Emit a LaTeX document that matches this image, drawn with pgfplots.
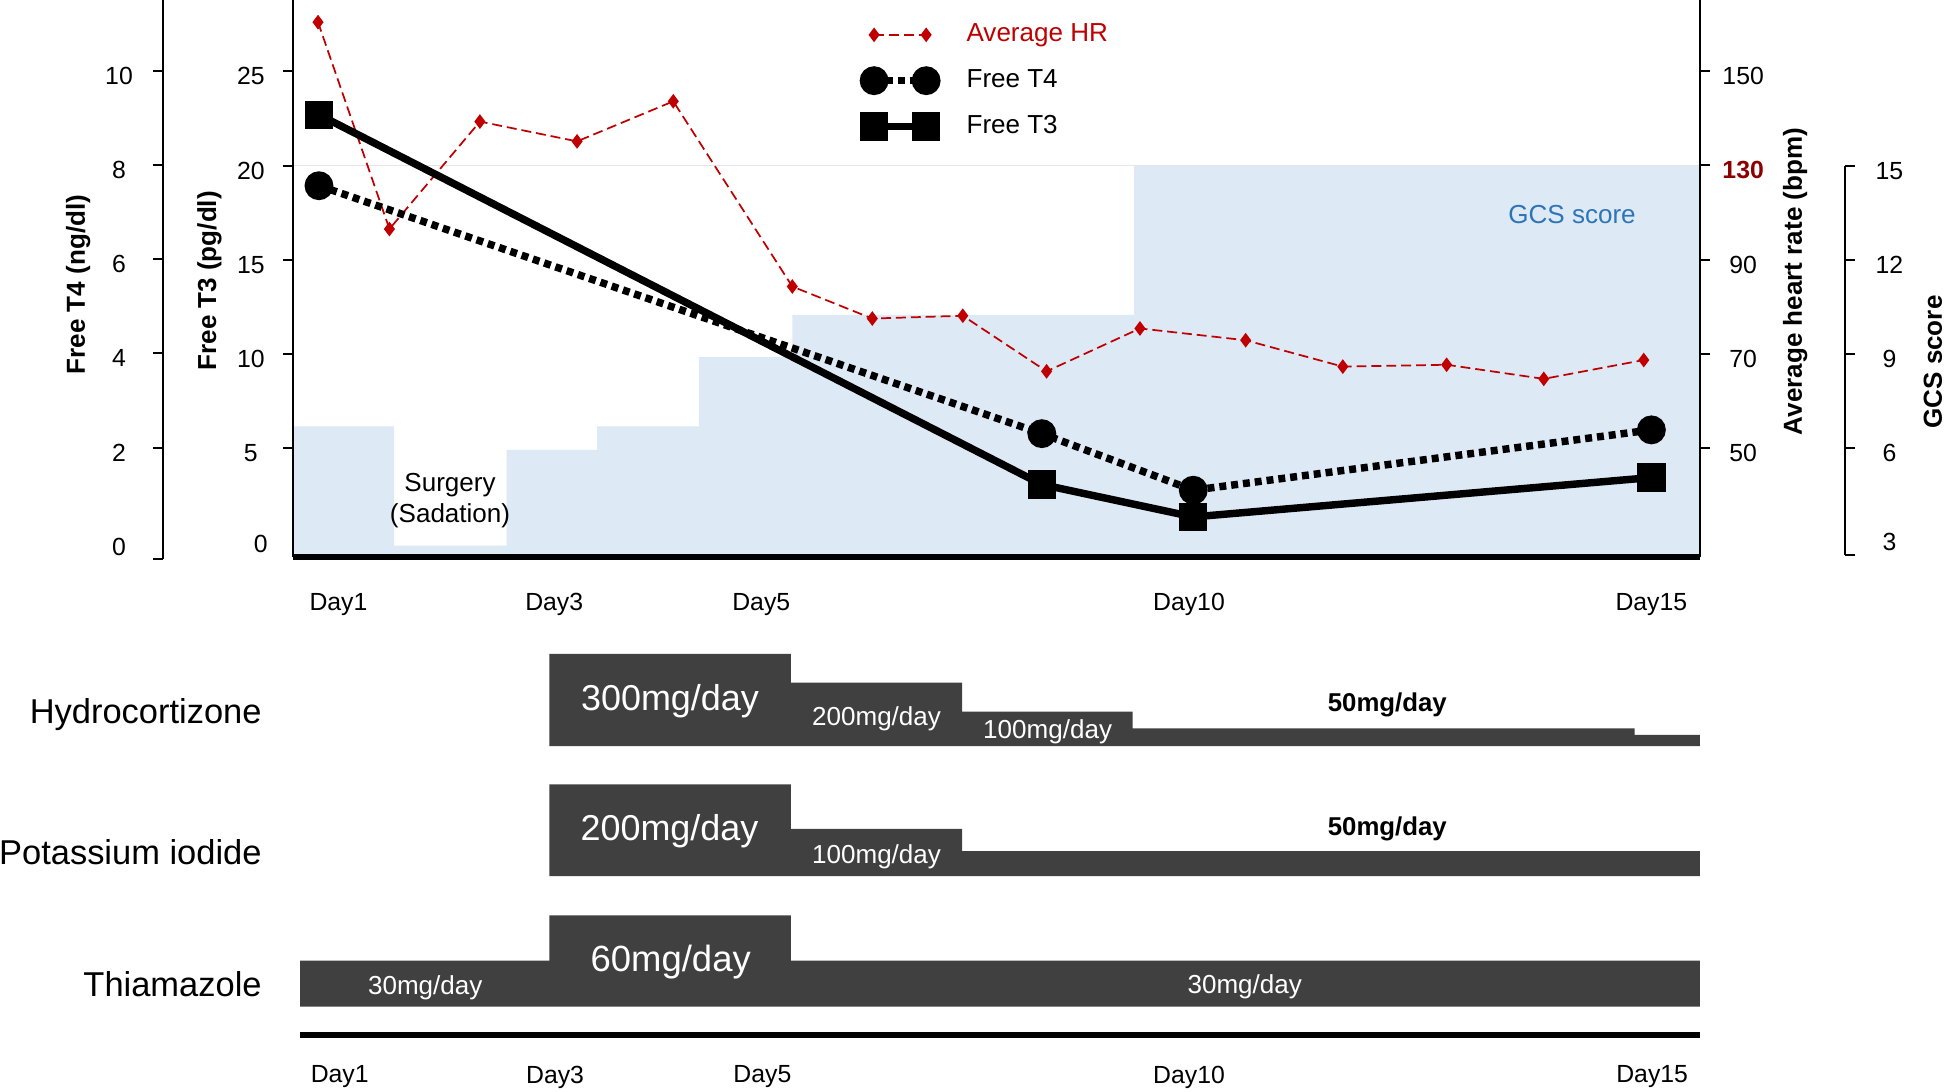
\documentclass[border=0pt]{standalone}
\usepackage{fontspec}
\setmainfont{Liberation Sans}
\usepackage{pgfplots}
\pgfplotsset{compat=1.18}
\definecolor{hrred}{RGB}{192,0,0}
\definecolor{darkred}{RGB}{140,0,0}
\definecolor{gcsfill}{RGB}{221,233,245}
\definecolor{gcsblue}{RGB}{46,117,182}
\definecolor{barg}{RGB}{64,64,64}
\pgfplotsset{
  base/.style={scale only axis, width=567.2pt, height=224.5pt, at={(118.3pt,215.5pt)}, anchor=south west, xmin=0.741, xmax=15.508},
  yax/.style={y axis line style={-, line width=0.8pt}, ytick style={line width=0.8pt, black}, tick align=outside, major tick length=4pt, yticklabel style={font=\fontsize{10}{12}\selectfont, anchor=center, yshift=-2pt}},
  hrstyle/.style={hrred, line width=0.7pt, dash pattern=on 4pt off 2pt, mark=diamond*, mark size=2.4pt, mark options={solid, fill=hrred}},
  t4style/.style={black, line width=3pt, dash pattern=on 2.8pt off 2pt, mark=*, mark size=4.3pt, mark options={solid}},
  t3style/.style={black, line width=3pt, mark=square*, mark size=4.2pt, mark options={solid}},
}
\begin{document}
\begin{tikzpicture}[x=1pt,y=1pt]
\path[use as bounding box] (0,0) rectangle (784,440);

% GCS area
\begin{axis}[base, ymin=2.55, ymax=20.27, hide axis]
\addplot[fill=gcsfill, draw=none, const plot] coordinates {(0.741,2.55) (0.741,6.7) (1.80,2.9) (2.98,5.95) (3.93,6.7) (5.00,8.9) (5.98,10.25) (9.57,15) (15.508,15) (15.508,2.55)} \closedcycle;
\addplot[gray!20, line width=0.6pt] coordinates {(0.741,15) (15.508,15)};
\end{axis}

% HR axis (right)
\begin{axis}[base, yax, axis x line=none, ymin=26.97, ymax=145.1, axis y line*=right,
  ytick={50,70,90,110,130}, yticklabels={50,70,90,{\textcolor{darkred}{\bfseries 130}},150},
  yticklabel style={xshift=13.5pt}]
\addplot[hrstyle] coordinates {(1.00,140.4) (1.75,96.5) (2.70,119.3) (3.72,115.1) (4.73,123.6) (5.98,84.3) (6.82,77.5) (7.77,78.1) (8.65,66.3) (9.63,75.4) (10.74,72.9) (11.76,67.3) (12.85,67.7) (13.87,64.7) (14.92,68.7)};
\end{axis}

% GCS bracket axis
\begin{axis}[scale only axis, width=1pt, height=157pt, at={(743pt,216pt)}, anchor=south west, xmin=0, xmax=1, ymin=2.586, ymax=15, yax, axis x line=none, axis y line*=right,
  ytick={6,9,12,15}, yticklabels={6,9,12,15},
  extra y ticks={2.586}, extra y tick labels={3}, extra y tick style={yticklabel style={yshift=7.5pt}},
  yticklabel style={xshift=14pt}]
\end{axis}

% T4 data
\begin{axis}[base, hide axis, ymin=-0.30, ymax=11.51]
\addplot[t4style] coordinates {(1.01,7.57) (8.60,2.31) (10.19,1.11) (15.0,2.39)};
\end{axis}

% T4 axis line
\begin{axis}[scale only axis, width=1pt, height=225.5pt, at={(65.85pt,214.5pt)}, anchor=south west, xmin=0, xmax=1, ymin=-0.37, ymax=11.51, yax, axis x line=none, axis y line*=left,
  ytick={2,4,6,8,10}, yticklabels={2,4,6,8,10},
  extra y ticks={-0.37}, extra y tick labels={0}, extra y tick style={yticklabel style={yshift=7pt}},
  yticklabel style={xshift=-13.85pt}]
\end{axis}

% T3 axis + legend
\begin{axis}[base, yax, ymin=-0.76, ymax=28.79, axis y line*=left, axis x line*=bottom,
  x axis line style={-, line width=2.5pt},
  xtick={1.215,3.48,5.654,10.145,15.0}, xticklabels={Day1,Day3,Day5,Day10,Day15},
  xtick style={draw=none}, xticklabel style={font=\fontsize{10}{12}\selectfont, yshift=-7.35pt},
  ytick={5,10,15,20,25}, yticklabels={5,10,15,20,25},
  extra y ticks={0}, extra y tick labels={0}, extra y tick style={major tick length=0pt, yticklabel style={yshift=1.5pt}},
  yticklabel style={xshift=-13.15pt},
  legend style={draw=none, fill=none, at={(0.405,0.9666)}, anchor=north west, font=\fontsize{10.5}{12}\selectfont, row sep=5.75pt, column sep=10pt, inner sep=0pt},
  legend cell align=left,
  legend image code/.code={\draw[#1] plot coordinates {(0pt,0pt) (21pt,0pt)};}]
\addlegendimage{hrstyle}
\addlegendentry{\textcolor{hrred}{Average HR}}
\addlegendimage{t4style}
\addlegendentry{Free T4}
\addplot[t3style] coordinates {(1.01,22.7) (8.60,3.07) (10.19,1.35) (15.0,3.44)};
\addlegendentry{Free T3}
\end{axis}

% texts in top panel
\node[font=\fontsize{10.5}{12.5}\selectfont, align=center] at (181.5,238.25) {Surgery\\(Sadation)};
\node[gcsblue, font=\fontsize{10.5}{12}\selectfont] at (634,353.5) {GCS score};
\node[rotate=90, font=\fontsize{10.5}{12}\selectfont\bfseries] at (31.5,325.25) {Free T4 (ng/dl)};
\node[rotate=90, font=\fontsize{10.5}{12}\selectfont\bfseries] at (84.5,326.75) {Free T3 (pg/dl)};
\node[rotate=90, font=\fontsize{10.5}{12}\selectfont\bfseries] at (724,326.5) {Average heart rate (bpm)};
\node[rotate=90, font=\fontsize{10.5}{12}\selectfont\bfseries] at (779.5,294) {GCS score};

% bottom panel: Hydrocortizone
\begin{axis}[scale only axis, width=567.2pt, height=37.15pt, at={(118.3pt,139.1pt)}, anchor=south west, xmin=0.741, xmax=15.508, ymin=0, ymax=300, hide axis]
\addplot[fill=barg, draw=none, const plot] coordinates {(3.428,300) (5.966,206.7) (7.763,112.2) (9.553,57.7) (14.824,36.3) (15.508,36.3)} \closedcycle;
\end{axis}
% Potassium iodide
\begin{axis}[scale only axis, width=567.2pt, height=37pt, at={(118.3pt,86.7pt)}, anchor=south west, xmin=0.741, xmax=15.508, ymin=0, ymax=200, hide axis]
\addplot[fill=barg, draw=none, const plot] coordinates {(3.428,200) (5.966,102.7) (7.763,54.6) (15.508,54.6)} \closedcycle;
\end{axis}
% Thiamazole
\begin{axis}[scale only axis, width=567.2pt, height=36.85pt, at={(118.3pt,34pt)}, anchor=south west, xmin=0.741, xmax=15.508, ymin=0, ymax=60, hide axis]
\addplot[fill=barg, draw=none, const plot] coordinates {(0.811,30.2) (3.428,60) (5.966,30.2) (15.508,30.2)} \closedcycle;
\end{axis}
% bottom day axis
\begin{axis}[scale only axis, width=564.5pt, height=10pt, at={(121pt,22.6pt)}, anchor=south west, xmin=0.811, xmax=15.508, ymin=0, ymax=1,
  axis y line=none, axis x line*=bottom, x axis line style={-, line width=2.5pt},
  xtick={1.228,3.489,5.666,10.145,15.008}, xticklabels={Day1,Day3,Day5,Day10,Day15},
  xtick style={draw=none}, xticklabel style={font=\fontsize{10}{12}\selectfont, yshift=-8.85pt}]
\end{axis}

% drug names
\node[anchor=base east, inner sep=0pt, font=\fontsize{13.9}{16}\selectfont] at (105.7,148.3) {Hydrocortizone};
\node[anchor=base east, inner sep=0pt, font=\fontsize{13.9}{16}\selectfont] at (105.7,91.45) {Potassium iodide};
\node[anchor=base east, inner sep=0pt, font=\fontsize{13.9}{16}\selectfont] at (105.7,38.3) {Thiamazole};

% dose labels
\begin{scope}[every node/.style={anchor=base, inner sep=0pt}]
\node[white, font=\fontsize{14.5}{16}\selectfont] at (270.2,153.65) {300mg/day};
\node[white, font=\fontsize{10.5}{12}\selectfont] at (353.5,147.6) {200mg/day};
\node[white, font=\fontsize{10.5}{12}\selectfont] at (422.5,142.25) {100mg/day};
\node[black, font=\fontsize{10.4}{12}\selectfont\bfseries] at (559.5,153) {50mg/day};
\node[white, font=\fontsize{14.5}{16}\selectfont] at (270,101) {200mg/day};
\node[white, font=\fontsize{10.5}{12}\selectfont] at (353.5,91.85) {100mg/day};
\node[black, font=\fontsize{10.4}{12}\selectfont\bfseries] at (559.5,103.25) {50mg/day};
\node[white, font=\fontsize{10.5}{12}\selectfont] at (171.5,38.75) {30mg/day};
\node[white, font=\fontsize{14.7}{16}\selectfont] at (270.5,48.15) {60mg/day};
\node[white, font=\fontsize{10.5}{12}\selectfont] at (502,39.15) {30mg/day};
\end{scope}
\end{tikzpicture}
\end{document}
